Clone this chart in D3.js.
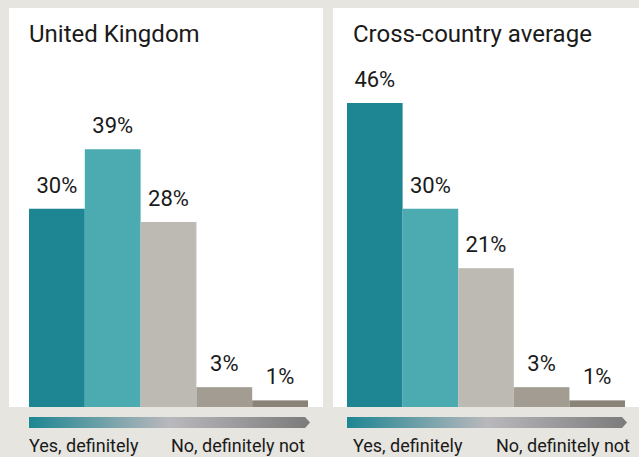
<!DOCTYPE html>
<html><head><meta charset="utf-8">
<script src="https://cdn.jsdelivr.net/npm/d3@7"></script>
<style>body{margin:0;background:#e6e5df;}svg{display:block;}</style>
</head><body>
<script>
const categories = ["Yes, definitely","Yes, probably","Not sure","No, probably not","No, definitely not"];
const ukValues = [30, 39, 28, 3, 1];
const avgValues = [46, 30, 21, 3, 1];
const panelTitles = ["United Kingdom", "Cross-country average"];
const barColors = ["#1e8693", "#4babb1", "#bdb9b3", "#a39c92", "#8a8378"];
const scaleLabels = ["Yes, definitely", "No, definitely not"];

const W = 639, H = 457;
const svg = d3.select("body").append("svg").attr("width", W).attr("height", H);
svg.append("rect").attr("width", W).attr("height", H).attr("fill", "#e6e5df");

const defs = svg.append("defs");
const grad = defs.append("linearGradient").attr("id", "g1").attr("x1", "0%").attr("x2", "100%");
grad.append("stop").attr("offset", "0%").attr("stop-color", "#1e8693");
grad.append("stop").attr("offset", "50%").attr("stop-color", "#b9b8bc");
grad.append("stop").attr("offset", "100%").attr("stop-color", "#7b7b7b");

const font = "Roboto, 'Liberation Sans', sans-serif";
const panels = [
  {x0: 9, x1: 323, barX0: 29, barX1: 308, textX: 29, textEnd: 305, values: ukValues, title: panelTitles[0]},
  {x0: 333, x1: 639, barX0: 347, barX1: 625, textX: 353, textEnd: 630, values: avgValues, title: panelTitles[1]}
];
const y = d3.scaleLinear().domain([0, 46]).range([407, 103]);

panels.forEach(p => {
  const g = svg.append("g");
  g.append("rect").attr("x", p.x0).attr("y", 8).attr("width", p.x1 - p.x0).attr("height", 399).attr("fill", "#fff");
  g.append("text").attr("x", p.textX).attr("y", 42).attr("font-family", font).attr("font-size", 24)
    .attr("fill", "#1a1a1a").text(p.title);
  const x = d3.scaleBand().domain(categories).range([p.barX0, p.barX1]).padding(0);
  g.selectAll("rect.bar").data(p.values).join("rect").attr("class", "bar")
    .attr("x", (d, i) => x(categories[i])).attr("width", x.bandwidth())
    .attr("y", d => y(d)).attr("height", d => y(0) - y(d))
    .attr("fill", (d, i) => barColors[i]);
  g.selectAll("text.lab").data(p.values).join("text").attr("class", "lab")
    .attr("x", (d, i) => x(categories[i]) + x.bandwidth() / 2)
    .attr("y", d => y(d) - 16).attr("text-anchor", "middle")
    .attr("font-family", font).attr("font-size", 22).attr("fill", "#1a1a1a")
    .text(d => d + "%");
  // gradient arrow
  const ax0 = p.barX0, ax1 = p.barX1 + 2, ay = 417, ah = 11;
  g.append("path")
    .attr("d", `M${ax0},${ay}H${ax1 - 5}L${ax1},${ay + ah / 2}L${ax1 - 5},${ay + ah}H${ax0}Z`)
    .attr("fill", "url(#g1)");
  g.append("text").attr("x", p.textX).attr("y", 452).attr("font-family", font).attr("font-size", 18)
    .attr("fill", "#1a1a1a").text(scaleLabels[0]);
  g.append("text").attr("x", p.textEnd).attr("y", 452).attr("text-anchor", "end").attr("font-family", font)
    .attr("font-size", 18).attr("fill", "#1a1a1a").text(scaleLabels[1]);
});
</script>
</body></html>
